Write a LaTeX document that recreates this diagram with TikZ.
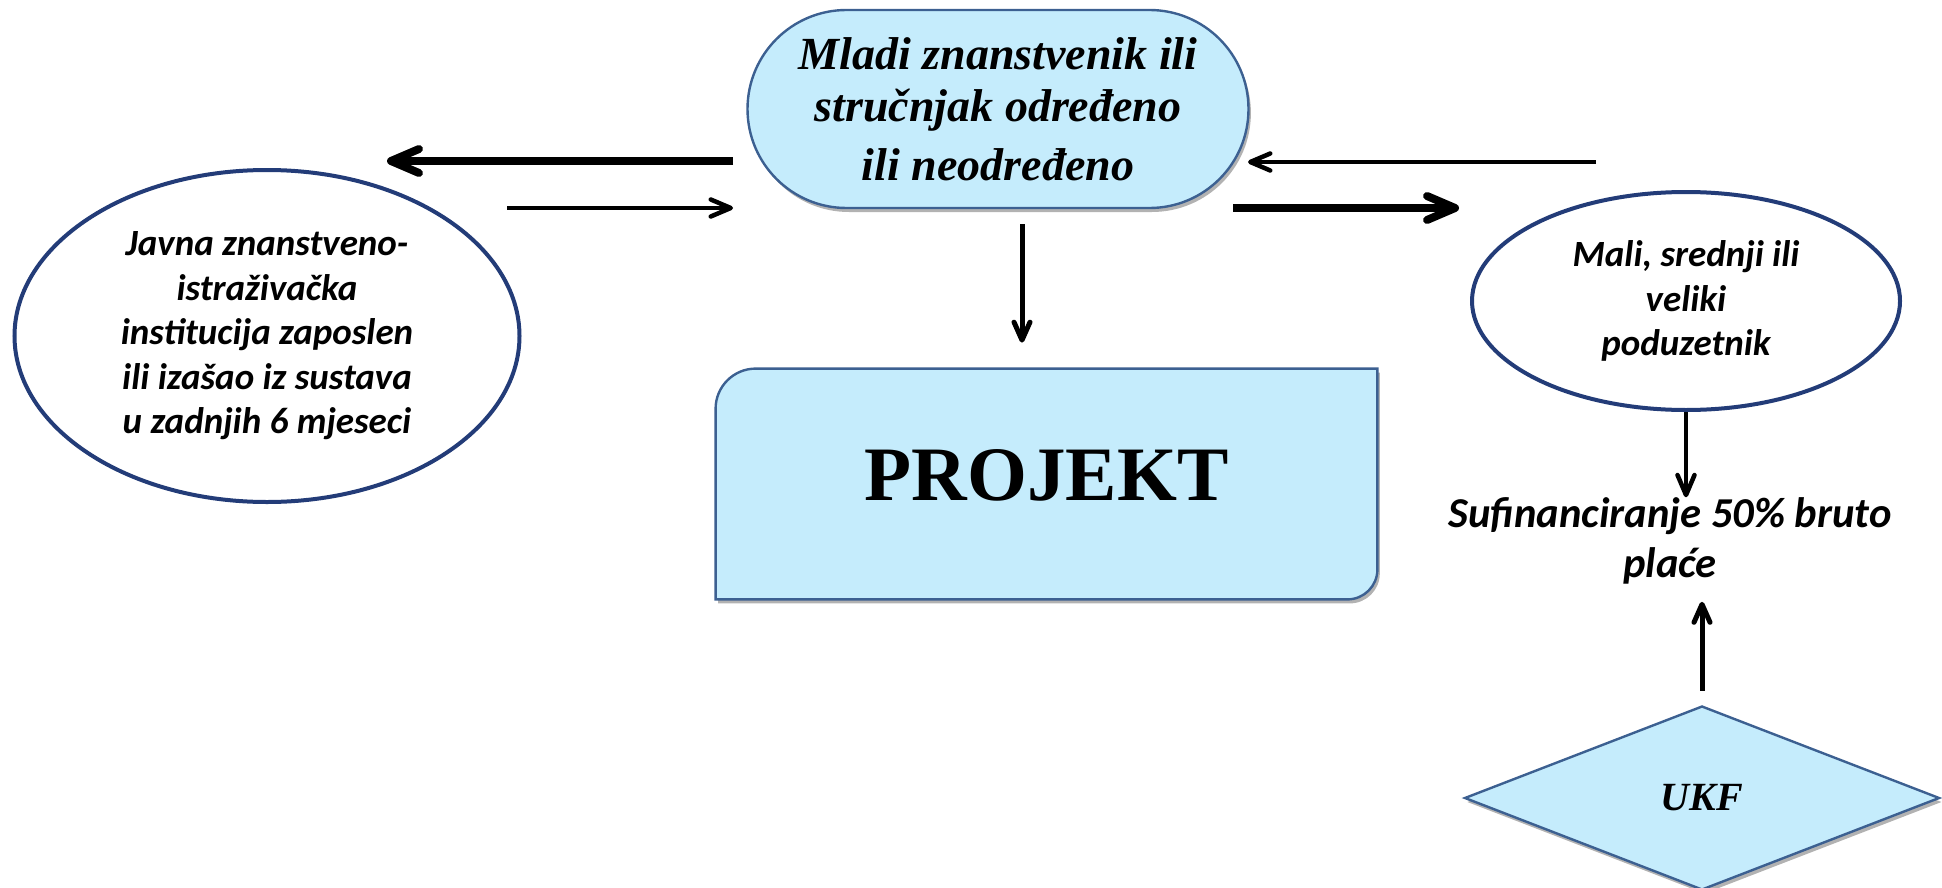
\documentclass[tikz,border=0pt]{standalone}
\usepackage{fontspec}
\setmainfont{Liberation Serif}
\newfontfamily\carlito{Carlito}
\usetikzlibrary{arrows.meta,shapes.geometric,shadows,calc}
\definecolor{fillblue}{RGB}{197,236,252}
\definecolor{edgeblue}{RGB}{60,96,145}
\definecolor{navy}{RGB}{35,60,120}
\begin{document}
\begin{tikzpicture}[x=0.5pt,y=-0.5pt,
  shadowed/.style={drop shadow={shadow xshift=1.2pt,shadow yshift=-2pt,opacity=0.3,fill=black}},
  bluebox/.style={fill=fillblue,draw=edgeblue,line width=1.2pt},
  oval/.style={ellipse,draw=navy,line width=2pt,fill=white,inner sep=0pt,align=center,
    font=\carlito\bfseries\itshape\fontsize{18.5pt}{22.25pt}\selectfont},
  thickarr/.style={line width=4pt,-{Straight Barb[length=14pt,width=12pt,line cap=round,line join=round]}},
  thinarr/.style={line width=2.25pt,-{Straight Barb[length=10pt,width=8.5pt,line cap=round,line join=round]}},
  vertarr/.style={line width=2.5pt,-{Straight Barb[length=9pt,width=8pt,line cap=round,line join=round]}}]
\useasboundingbox (0,0) rectangle (1942,888);

% top stadium
\node[bluebox,shadowed,rectangle,rounded corners=49.5pt,minimum width=250.5pt,minimum height=99pt,
  align=center,font=\bfseries\itshape\fontsize{23pt}{26pt}\selectfont] (stad) at (998,109)
  {Mladi znanstvenik ili\\ stručnjak određeno\\[3.5pt] ili neodređeno};

% ellipses
\node[oval,minimum width=252.5pt,minimum height=166pt] (javna) at (267,336)
  {Javna znanstveno-\\ istraživačka\\ institucija zaposlen\\ ili izašao iz sustava\\ u zadnjih 6 mjeseci};
\node[oval,minimum width=214pt,minimum height=109pt] (mali) at (1686,301)
  {Mali, srednji ili\\ veliki\\ poduzetnik};

% PROJEKT box
\node[minimum width=330.5pt,minimum height=115pt,inner sep=0pt] (proj) at (1046.5,484) {};
\path[bluebox,shadowed] (proj.south west) -- ($(proj.north west)+(0,40)$)
  .. controls ($(proj.north west)+(0,18)$) and ($(proj.north west)+(18,0)$) .. ($(proj.north west)+(40,0)$)
  -- (proj.north east) -- ($(proj.south east)+(0,-30)$)
  .. controls ($(proj.south east)+(0,-13.4)$) and ($(proj.south east)+(-13.4,0)$) .. ($(proj.south east)+(-30,0)$)
  -- cycle;
\node[font=\bfseries\fontsize{38.5pt}{44pt}\selectfont] (projtxt) at (1046.5,475) {PROJEKT};

% co-financing text
\node[align=center,inner sep=0pt,font=\carlito\bfseries\itshape\fontsize{21.3pt}{25pt}\selectfont] (suf) at (1670,541)
  {Sufinanciranje 50\% bruto\\ plaće};

% UKF diamond
\node[diamond,bluebox,shadowed,minimum width=237.5pt,minimum height=92pt,inner sep=0pt,
  font=\bfseries\itshape\fontsize{20pt}{24pt}\selectfont] (ukf) at (1702,798) {UKF};

% arrow end points
\coordinate (a1s) at (733,161);
\coordinate (a1e) at (387,161);
\coordinate (a2s) at (507,208);
\coordinate (a2e) at (733,208);
\coordinate (a3s) at (1596,162);
\coordinate (a3e) at (1248,162);
\coordinate (a4s) at (1233,208);
\coordinate (a4e) at (1459,208);

\draw[thickarr] (a1s) -- (a1e);
\draw[thinarr] (a2s) -- (a2e);
\draw[thinarr] (a3s) -- (a3e);
\draw[thickarr] (a4s) -- (a4e);
\draw[vertarr] ($(stad.south)+(24,15)$) -- ($(proj.north)+(-24.5,-26)$);
\draw[thinarr] (mali.south) -- (mali.south |- suf.north);
\draw[vertarr] ($(ukf.north)+(0,-14)$) -- ($(ukf.north)+(0,-103)$);
\end{tikzpicture}
\end{document}
